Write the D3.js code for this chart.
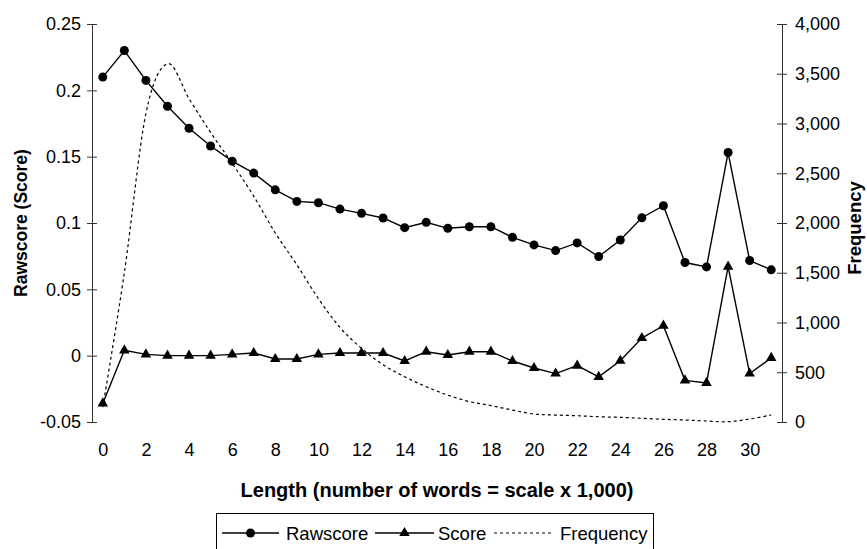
<!DOCTYPE html>
<html>
<head>
<meta charset="utf-8">
<script src="https://cdn.jsdelivr.net/npm/d3@7"></script>
<style>
  html, body { margin: 0; padding: 0; background: #fff; }
  svg { display: block; font-family: "Liberation Sans", Arial, sans-serif; }
</style>
</head>
<body>
<svg id="chart" width="867" height="549"></svg>
<script>
// ---- data ----
const categories = [0,1,2,3,4,5,6,7,8,9,10,11,12,13,14,15,16,17,18,19,20,21,22,23,24,25,26,27,28,29,30,31];
const xTickLabels = [0,2,4,6,8,10,12,14,16,18,20,22,24,26,28,30];
const rawscore = [0.210, 0.230, 0.2075, 0.188, 0.1714, 0.158, 0.1466, 0.1376, 0.125, 0.1163, 0.1153, 0.1105, 0.1073, 0.1038, 0.0965, 0.1005, 0.096, 0.0972, 0.0972, 0.0892, 0.0835, 0.0792, 0.085, 0.0747, 0.0872, 0.104, 0.113, 0.0702, 0.0669, 0.1531, 0.0717, 0.0647];
const score = [-0.036, 0.004, 0.001, 0, 0, 0, 0.001, 0.002, -0.0025, -0.0025, 0.001, 0.002, 0.002, 0.002, -0.004, 0.003, 0.0005, 0.003, 0.003, -0.004, -0.0093, -0.0135, -0.0075, -0.016, -0.0038, 0.0133, 0.0226, -0.0186, -0.0205, 0.0671, -0.0135, -0.0017];
const frequency = [150, 1500, 3100, 3600, 3250, 2910, 2600, 2270, 1900, 1580, 1240, 950, 740, 575, 455, 355, 270, 205, 165, 120, 80, 70, 63, 53, 47, 37, 27, 20, 10, 3, 30, 70];
const leftTicks = [-0.05, 0, 0.05, 0.1, 0.15, 0.2, 0.25];
const leftTickLabels = ["-0.05", "0", "0.05", "0.1", "0.15", "0.2", "0.25"];
const rightTicks = [0, 500, 1000, 1500, 2000, 2500, 3000, 3500, 4000];
const rightTickLabels = ["0", "500", "1,000", "1,500", "2,000", "2,500", "3,000", "3,500", "4,000"];
const legendItems = ["Rawscore", "Score", "Frequency"];

// ---- layout ----
const svg = d3.select("#chart");
const plot = {left: 92, right: 782, top: 24, bottom: 422};
const x = d3.scalePoint().domain(categories).range([plot.left, plot.right]).padding(0.5);
const yL = d3.scaleLinear().domain([-0.05, 0.25]).range([plot.bottom, plot.top]);
const yR = d3.scaleLinear().domain([0, 4000]).range([plot.bottom, plot.top]);
const tickFont = "18px";

// left axis
const gL = svg.append("g").attr("transform", `translate(${plot.left},0)`)
  .call(d3.axisLeft(yL).tickValues(leftTicks).tickFormat((d, i) => leftTickLabels[i]).tickSizeInner(5).tickSizeOuter(0).tickPadding(6));
gL.select(".domain").attr("stroke", "#333");
gL.selectAll(".tick line").attr("x1", -5).attr("x2", 5).attr("stroke", "#333");
gL.selectAll(".tick text").attr("font-size", tickFont).attr("font-family", "Liberation Sans, Arial, sans-serif").attr("fill", "#000");

// right axis
const gR = svg.append("g").attr("transform", `translate(${plot.right},0)`)
  .call(d3.axisRight(yR).tickValues(rightTicks).tickFormat((d, i) => rightTickLabels[i]).tickSizeInner(5).tickSizeOuter(0).tickPadding(8));
gR.select(".domain").attr("stroke", "#333");
gR.selectAll(".tick line").attr("x1", -5).attr("x2", 5).attr("stroke", "#333");
gR.selectAll(".tick text").attr("font-size", tickFont).attr("font-family", "Liberation Sans, Arial, sans-serif").attr("fill", "#000");

// x tick labels (no axis line)
const gX = svg.append("g").attr("transform", `translate(0,${plot.bottom})`)
  .call(d3.axisBottom(x).tickValues(xTickLabels).tickSize(0).tickPadding(21));
gX.select(".domain").remove();
gX.selectAll(".tick text").attr("font-size", tickFont).attr("font-family", "Liberation Sans, Arial, sans-serif").attr("fill", "#000");

// frequency (dashed, smoothed)
svg.append("path")
  .datum(frequency)
  .attr("fill", "none").attr("stroke", "#000").attr("stroke-width", 1.2)
  .attr("stroke-dasharray", "3,3")
  .attr("d", d3.line().x((d, i) => x(categories[i])).y(d => yR(d)).curve(d3.curveCardinal.tension(0)));

// rawscore line
svg.append("path")
  .datum(rawscore)
  .attr("fill", "none").attr("stroke", "#000").attr("stroke-width", 1.4)
  .attr("d", d3.line().x((d, i) => x(categories[i])).y(d => yL(d)));
svg.append("g").selectAll("circle").data(rawscore).join("circle")
  .attr("cx", (d, i) => x(categories[i])).attr("cy", d => yL(d)).attr("r", 4.5).attr("fill", "#000");

// score line
svg.append("path")
  .datum(score)
  .attr("fill", "none").attr("stroke", "#000").attr("stroke-width", 1.4)
  .attr("d", d3.line().x((d, i) => x(categories[i])).y(d => yL(d)));
const tri = d3.symbol().type(d3.symbolTriangle).size(48);
svg.append("g").selectAll("path").data(score).join("path")
  .attr("transform", (d, i) => `translate(${x(categories[i])},${yL(d)})`)
  .attr("d", tri).attr("fill", "#000");

// axis titles
svg.append("text")
  .attr("transform", `translate(27,${(plot.top + plot.bottom) / 2}) rotate(-90)`)
  .attr("text-anchor", "middle").attr("font-size", "17.5px").attr("font-weight", "bold")
  .text("Rawscore (Score)");
svg.append("text")
  .attr("transform", `translate(861,${(plot.top + plot.bottom) / 2 + 5}) rotate(-90)`)
  .attr("text-anchor", "middle").attr("font-size", "18.5px").attr("font-weight", "bold")
  .text("Frequency");
svg.append("text")
  .attr("x", 437).attr("y", 497)
  .attr("text-anchor", "middle").attr("font-size", "20px").attr("font-weight", "bold")
  .text("Length (number of words = scale x 1,000)");

// legend
const lg = svg.append("g");
lg.append("rect").attr("x", 216.5).attr("y", 513.5).attr("width", 437).attr("height", 45)
  .attr("fill", "#fff").attr("stroke", "#000").attr("stroke-width", 1);
const ly = 533;
const legendPos = [
  {x1: 222, x2: 279, tx: 286},
  {x1: 375, x2: 434, tx: 438},
  {x1: 494, x2: 554, tx: 560}
];
legendItems.forEach((name, i) => {
  const p = legendPos[i];
  const line = lg.append("line").attr("x1", p.x1).attr("x2", p.x2).attr("y1", ly).attr("y2", ly)
    .attr("stroke", "#000").attr("stroke-width", i === 2 ? 1.2 : 1.4);
  if (i === 2) line.attr("stroke-dasharray", "3,3");
  const mx = (p.x1 + p.x2) / 2;
  if (i === 0) lg.append("circle").attr("cx", mx).attr("cy", ly).attr("r", 4.5).attr("fill", "#000");
  if (i === 1) lg.append("path").attr("transform", `translate(${mx},${ly})`).attr("d", tri).attr("fill", "#000");
  lg.append("text").attr("x", p.tx).attr("y", ly + 6.5).attr("font-size", "18.5px").text(name);
});
</script>
</body>
</html>
